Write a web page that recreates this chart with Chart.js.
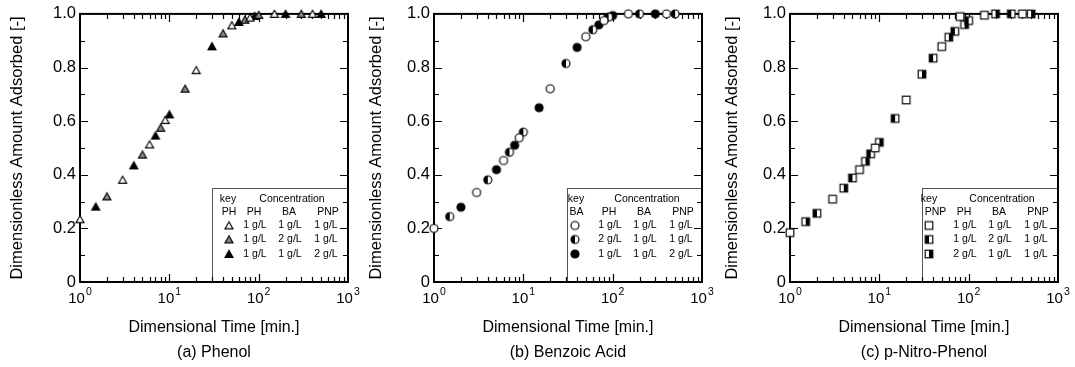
<!DOCTYPE html>
<html><head><meta charset="utf-8">
<script src="https://cdn.jsdelivr.net/npm/chart.js@4.4.0/dist/chart.umd.min.js"></script>
<style>
html,body{margin:0;padding:0;background:#fff;width:1075px;height:367px;overflow:hidden;}
canvas{position:absolute;top:0;}
</style></head><body>
<canvas id="c1" width="364" height="367" style="left:0px"></canvas>
<canvas id="c2" width="364" height="367" style="left:358px"></canvas>
<canvas id="c3" width="359" height="367" style="left:716px"></canvas>
<script>
// ---------- data ----------
const X_TICKS = [1, 10, 100, 1000];
const X_TICK_EXP = ['0', '1', '2', '3'];
const Y_TICKS = [0, 0.2, 0.4, 0.6, 0.8, 1.0];
const Y_TITLE = 'Dimensionless Amount Adsorbed [-]';
const X_TITLE = 'Dimensional Time [min.]';
const SUBTITLES = ['(a) Phenol', '(b) Benzoic Acid', '(c) p-Nitro-Phenol'];
const LEGEND_HEAD = ['PH', 'BA', 'PNP'];
const CONC_111 = ['1 g/L', '1 g/L', '1 g/L'];
const CONC_121 = ['1 g/L', '2 g/L', '1 g/L'];
const CONC_112 = ['1 g/L', '1 g/L', '2 g/L'];
const CONC_211 = ['2 g/L', '1 g/L', '1 g/L'];

// (a) Phenol
const PH_T_111 = [1, 3, 6, 9, 20, 50, 80, 150, 400];
const PH_Y_111 = [0.234, 0.381, 0.513, 0.604, 0.790, 0.957, 0.986, 1.0, 1.0];
const PH_T_112 = [1.5, 4, 7, 10, 30, 60, 90, 200, 500];
const PH_Y_112 = [0.281, 0.435, 0.546, 0.625, 0.879, 0.970, 0.992, 1.0, 1.0];
const PH_T_121 = [2, 5, 8, 15, 40, 70, 100, 300];
const PH_Y_121 = [0.319, 0.475, 0.575, 0.721, 0.927, 0.978, 0.996, 1.0];

// (b) Benzoic Acid
const BA_T_111 = [1, 3, 6, 9, 20, 50, 80, 150, 400];
const BA_Y_111 = [0.200, 0.334, 0.453, 0.538, 0.721, 0.915, 0.975, 1.0, 1.0];
const BA_T_211 = [1.5, 4, 7, 10, 30, 60, 90, 200, 500];
const BA_Y_211 = [0.244, 0.381, 0.484, 0.559, 0.815, 0.941, 0.988, 1.0, 1.0];
const BA_T_112 = [2, 5, 8, 15, 40, 70, 100, 300];
const BA_Y_112 = [0.279, 0.419, 0.510, 0.650, 0.875, 0.959, 0.994, 1.0];

// (c) p-Nitro-Phenol
const PNP_T_111 = [1, 3, 6, 9, 20, 50, 80, 150, 400];
const PNP_Y_111 = [0.184, 0.309, 0.419, 0.500, 0.679, 0.878, 0.990, 0.995, 1.0];
const PNP_T_211 = [1.5, 4, 7, 10, 30, 60, 90, 200, 500];
const PNP_Y_211 = [0.225, 0.350, 0.450, 0.521, 0.775, 0.913, 0.960, 1.0, 1.0];
const PNP_T_121 = [2, 5, 8, 15, 40, 70, 100, 300];
const PNP_Y_121 = [0.256, 0.388, 0.478, 0.610, 0.835, 0.935, 0.975, 1.0];

// ---------- markers ----------
const FONT = "'Liberation Sans', Arial, Helvetica, sans-serif";
function marker(shape, fill) {
  const s = 12, m = 6;
  const c = document.createElement('canvas'); c.width = s; c.height = s;
  const g = c.getContext('2d');
  g.lineWidth = 1.15; g.strokeStyle = '#000';
  if (shape === 'tri') {
    g.beginPath(); g.moveTo(m, 2.3); g.lineTo(m + 4.0, 9.4); g.lineTo(m - 4.0, 9.4); g.closePath();
    g.fillStyle = fill === 'open' ? '#fff' : (fill === 'gray' ? '#8a8a8a' : '#000');
    g.fill(); g.stroke();
  } else if (shape === 'circ') {
    const r = 4.0;
    g.beginPath(); g.arc(m, m, r, 0, Math.PI * 2);
    g.fillStyle = fill === 'full' ? '#000' : '#fff'; g.fill();
    if (fill === 'half') {
      g.beginPath(); g.moveTo(m, m - r); g.arc(m, m, r, -Math.PI / 2, Math.PI / 2, true); g.closePath();
      g.fillStyle = '#000'; g.fill();
    }
    g.beginPath(); g.arc(m, m, r, 0, Math.PI * 2); g.stroke();
  } else {
    const h = 3.8;
    g.fillStyle = '#fff'; g.fillRect(m - h, m - h, 2 * h, 2 * h);
    g.fillStyle = '#000';
    if (fill === 'left') g.fillRect(m - h, m - h, h, 2 * h);
    if (fill === 'right') g.fillRect(m, m - h, h, 2 * h);
    g.strokeRect(m - h, m - h, 2 * h, 2 * h);
  }
  return c;
}

const M = {
  triOpen: marker('tri', 'open'), triGray: marker('tri', 'gray'), triFull: marker('tri', 'full'),
  cirOpen: marker('circ', 'open'), cirHalf: marker('circ', 'half'), cirFull: marker('circ', 'full'),
  sqOpen: marker('sq', 'open'), sqLeft: marker('sq', 'left'), sqRight: marker('sq', 'right')
};

// ---------- plugin ----------
function framePlugin(cfg) {
  return {
    id: 'frame' + cfg.id,
    beforeDatasetsDraw(chart) {
      const ctx = chart.ctx, a = chart.chartArea, x = chart.scales.x, y = chart.scales.y;
      ctx.save();
      // legend box
      const bw = cfg.boxW, bh = 94;
      const bx = a.right - bw, by = a.bottom - bh;
      ctx.fillStyle = '#fff'; ctx.fillRect(bx, by, bw, bh);
      ctx.strokeStyle = '#555'; ctx.lineWidth = 1;
      ctx.strokeRect(Math.round(bx) + 0.5, Math.round(by) + 0.5, bw, bh);
      ctx.fillStyle = '#000'; ctx.font = '10.5px ' + FONT;
      ctx.textBaseline = 'middle'; ctx.textAlign = 'center';
      ctx.fillText('key', bx + cfg.keyTextX, by + 11.5);
      ctx.fillText('Concentration', bx + 80, by + 11.5);
      ctx.fillText(cfg.keyLabel, bx + cfg.keyColX, by + 24.5);
      const hc = [42, 77, 116], vc = [43, 78, 114];
      LEGEND_HEAD.forEach((h, i) => ctx.fillText(h, bx + hc[i], by + 24.5));
      const rowsY = [37.5, 51.5, 66];
      cfg.series.forEach((s, r) => {
        const img = s.marker;
        ctx.drawImage(img, bx + cfg.markX - img.width / 2, by + rowsY[r] - img.height / 2);
        s.conc.forEach((t, i) => ctx.fillText(t, bx + vc[i], by + rowsY[r]));
      });
      // ticks
      ctx.strokeStyle = '#000'; ctx.lineWidth = 1.2;
      ctx.beginPath();
      for (let d = 1; d < 1000; d *= 10) {
        for (let k = 1; k <= 9; k++) {
          const v = k * d;
          if (v === 1) continue;
          const px = Math.round(x.getPixelForValue(v)) + 0.5;
          const len = k === 1 ? 8 : 5;
          ctx.moveTo(px, a.top); ctx.lineTo(px, a.top + len);
          ctx.moveTo(px, a.bottom); ctx.lineTo(px, a.bottom - len);
        }
      }
      for (let i = 1; i < 10; i++) {
        const py = Math.round(y.getPixelForValue(i / 10)) + 0.5;
        const len = i % 2 === 0 ? 8 : 5;
        ctx.moveTo(a.left, py); ctx.lineTo(a.left + len, py);
        ctx.moveTo(a.right, py); ctx.lineTo(a.right - len, py);
      }
      ctx.stroke();
      // frame
      ctx.lineWidth = 2;
      ctx.strokeRect(a.left, a.top, a.right - a.left, a.bottom - a.top);
      // x tick labels (10 with superscript exponent)
      ctx.fillStyle = '#000'; ctx.textBaseline = 'middle'; ctx.textAlign = 'left';
      X_TICKS.forEach((v, i) => {
        const px = x.getPixelForValue(v);
        ctx.font = '15px ' + FONT;
        const w1 = ctx.measureText('10').width;
        ctx.font = '10.5px ' + FONT;
        const w2 = ctx.measureText(X_TICK_EXP[i]).width;
        const x0 = px - (w1 + w2 + 1) / 2;
        ctx.font = '15px ' + FONT;
        ctx.fillText('10', x0, 299);
        ctx.font = '10.5px ' + FONT;
        ctx.fillText(X_TICK_EXP[i], x0 + w1 + 1, 292);
      });
      ctx.restore();
    }
  };
}

function makeChart(cfg) {
  const canvas = document.getElementById(cfg.id);
  return new Chart(canvas, {
    type: 'scatter',
    data: {
      datasets: cfg.series.map(s => ({
        data: s.t.map((t, i) => ({ x: t, y: s.v[i] })),
        pointStyle: s.marker, pointRadius: 5, pointHoverRadius: 5,
        clip: false, showLine: false
      }))
    },
    options: {
      responsive: false, animation: false, events: [],
      layout: { padding: { top: 13, right: cfg.padR, left: 0, bottom: 5 } },
      plugins: {
        legend: { display: false }, tooltip: { enabled: false },
        title: { display: true, position: 'bottom', fullSize: false, text: cfg.sub, color: '#000',
          font: { family: FONT, size: 16, weight: 'normal' }, padding: { top: 0, bottom: 0 } }
      },
      scales: {
        x: {
          type: 'logarithmic', min: 1, max: 1000,
          ticks: { display: false }, grid: { display: false, drawTicks: false }, border: { display: false },
          title: { display: true, text: X_TITLE, color: '#000', font: { family: FONT, size: 16 },
            padding: { top: 0, bottom: 5.2 } },
          afterFit(s) { s.height = 60.8; }
        },
        y: {
          min: 0, max: 1,
          afterBuildTicks(s) { s.ticks = Y_TICKS.map(v => ({ value: v })); },
          ticks: { color: '#000', font: { family: FONT, size: 16.5 }, padding: 4,
            callback: v => (v === 0 ? '0' : Number(v).toFixed(1)) },
          grid: { display: false, drawTicks: false }, border: { display: false },
          title: { display: true, text: Y_TITLE, color: '#000', font: { family: FONT, size: 16.5 },
            padding: { top: cfg.yTitlePad, bottom: 0 } },
          afterFit(s) { s.width = cfg.plotL; }
        }
      }
    },
    plugins: [framePlugin(cfg)]
  });
}

makeChart({
  id: 'c1', sub: SUBTITLES[0], plotL: 80, padR: 16, yTitlePad: 8, boxW: 136,
  keyLabel: 'PH', keyTextX: 16, keyColX: 17, markX: 17,
  series: [
    { t: PH_T_111, v: PH_Y_111, marker: M.triOpen, conc: CONC_111 },
    { t: PH_T_121, v: PH_Y_121, marker: M.triGray, conc: CONC_121 },
    { t: PH_T_112, v: PH_Y_112, marker: M.triFull, conc: CONC_112 }
  ]
});
makeChart({
  id: 'c2', sub: SUBTITLES[1], plotL: 76, padR: 20, yTitlePad: 9, boxW: 135,
  keyLabel: 'BA', keyTextX: 9, keyColX: 9.5, markX: 8,
  series: [
    { t: BA_T_111, v: BA_Y_111, marker: M.cirOpen, conc: CONC_111 },
    { t: BA_T_211, v: BA_Y_211, marker: M.cirHalf, conc: CONC_211 },
    { t: BA_T_112, v: BA_Y_112, marker: M.cirFull, conc: CONC_112 }
  ]
});
makeChart({
  id: 'c3', sub: SUBTITLES[2], plotL: 74, padR: 17, yTitlePad: 7, boxW: 136,
  keyLabel: 'PNP', keyTextX: 7, keyColX: 13.5, markX: 7,
  series: [
    { t: PNP_T_111, v: PNP_Y_111, marker: M.sqOpen, conc: CONC_111 },
    { t: PNP_T_121, v: PNP_Y_121, marker: M.sqLeft, conc: CONC_121 },
    { t: PNP_T_211, v: PNP_Y_211, marker: M.sqRight, conc: CONC_211 }
  ]
});
</script>
</body></html>
